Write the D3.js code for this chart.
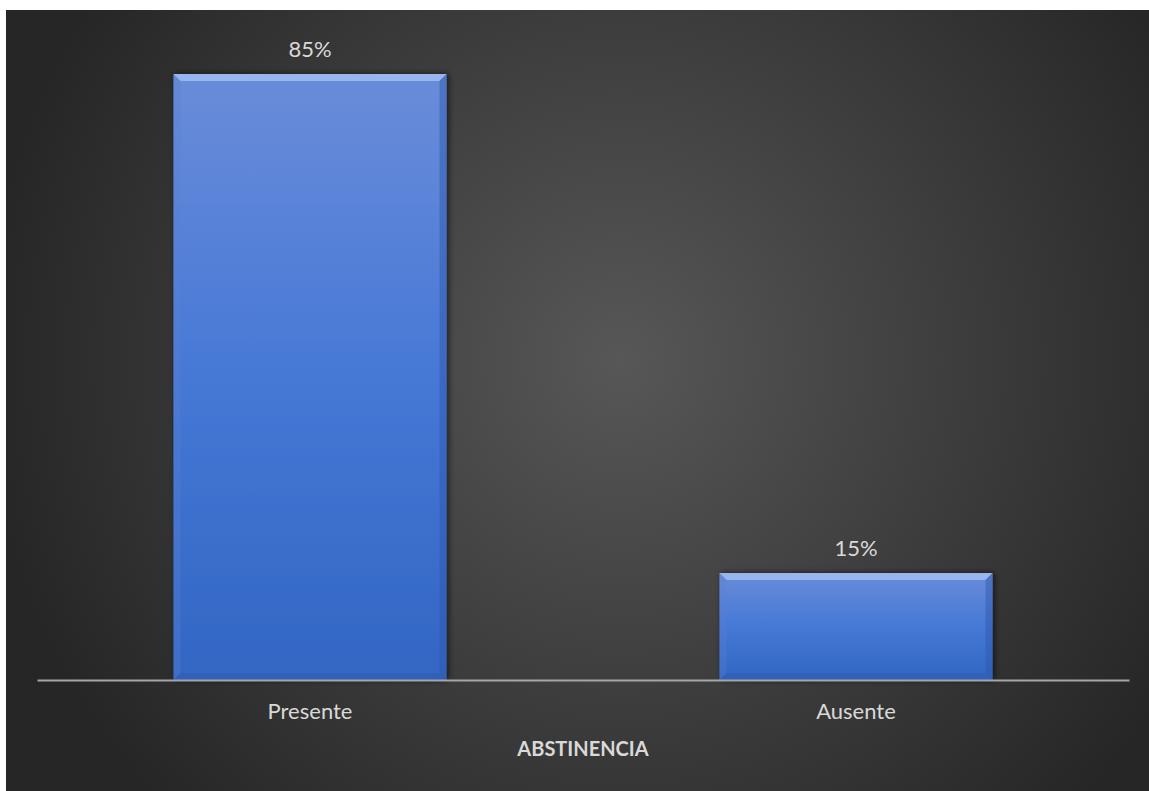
<!DOCTYPE html>
<html><head><meta charset="utf-8">
<script src="https://cdn.jsdelivr.net/npm/d3@7"></script>
<style>html,body{margin:0;padding:0;background:#fff;}svg{display:block;}</style>
</head><body>
<script>
const categories = ["Presente", "Ausente"];
const values = [85, 15];
const valueLabels = ["85%", "15%"];
const axisTitle = "ABSTINENCIA";

const W = 1149, H = 791;
const svg = d3.select("body").append("svg").attr("width", W).attr("height", H);
const defs = svg.append("defs");
const bg = defs.append("radialGradient").attr("id", "bg")
  .attr("gradientUnits", "userSpaceOnUse")
  .attr("cx", 620).attr("cy", 360).attr("r", 640);
bg.append("stop").attr("offset", "0%").attr("stop-color", "#575757");
bg.append("stop").attr("offset", "100%").attr("stop-color", "#262626");
const bar = defs.append("linearGradient").attr("id", "bar").attr("x1", 0).attr("y1", 0).attr("x2", 0).attr("y2", 1);
bar.append("stop").attr("offset", "0%").attr("stop-color", "#6a8cd9");
bar.append("stop").attr("offset", "50%").attr("stop-color", "#4678d6");
bar.append("stop").attr("offset", "100%").attr("stop-color", "#3366c4");
const sh = defs.append("filter").attr("id", "sh").attr("x", "-10%").attr("y", "-10%").attr("width", "130%").attr("height", "130%");
sh.append("feGaussianBlur").attr("in", "SourceAlpha").attr("stdDeviation", 3);
sh.append("feOffset").attr("dx", 2).attr("dy", 0).attr("result", "b");
sh.append("feComponentTransfer").append("feFuncA").attr("type", "linear").attr("slope", 0.6);
const m = sh.append("feMerge"); m.append("feMergeNode"); m.append("feMergeNode").attr("in", "SourceGraphic");

svg.append("rect").attr("x", 6).attr("y", 10).attr("width", W - 6).attr("height", H - 10).attr("fill", "url(#bg)");

const x = d3.scaleBand().domain(categories).range([37, 1129]).paddingInner(0.5).paddingOuter(0.25);
const y = d3.scaleLinear().domain([0, 85]).range([680, 74]);
const font = "Lato, 'Open Sans', sans-serif";

const g = svg.append("g");
categories.forEach((c, i) => {
  const x0 = x(c), bw = x.bandwidth(), y0 = y(values[i]), y1 = y(0);
  const b = 7;
  const gg = g.append("g");
  gg.append("rect").attr("x", x0).attr("y", y0).attr("width", bw).attr("height", y1 - y0)
    .attr("fill", "url(#bar)").attr("filter", "url(#sh)");
  gg.append("path").attr("d", `M${x0},${y0}L${x0+bw},${y0}L${x0+bw-b},${y0+b}L${x0+b},${y0+b}Z`).attr("fill", "#a3c0f2").attr("opacity", 0.8);
  gg.append("path").attr("d", `M${x0},${y0}L${x0+b},${y0+b}L${x0+b},${y1-b}L${x0},${y1}Z`).attr("fill", "#5a80d0").attr("opacity", 0.3);
  gg.append("path").attr("d", `M${x0+bw},${y0}L${x0+bw-b},${y0+b}L${x0+bw-b},${y1-b}L${x0+bw},${y1}Z`).attr("fill", "#2c56a8").attr("opacity", 0.45);
  gg.append("path").attr("d", `M${x0},${y1}L${x0+b},${y1-b}L${x0+bw-b},${y1-b}L${x0+bw},${y1}Z`).attr("fill", "#2d5ab0").attr("opacity", 0.5);
  g.append("text").attr("x", x0 + bw / 2).attr("y", y0 - 17).attr("text-anchor", "middle")
    .attr("font-family", font).attr("font-size", 22).attr("fill", "#d9d9d9").text(valueLabels[i]);
});

const axis = svg.append("g").attr("transform", "translate(0,680)")
  .call(d3.axisBottom(x).tickSize(0).tickPadding(23));
axis.select(".domain").attr("stroke", "#a6a6a6").attr("stroke-width", 2);
axis.selectAll("text").attr("font-family", font).attr("font-size", 22).attr("fill", "#d9d9d9");

svg.append("text").attr("x", (37 + 1129) / 2).attr("y", 756).attr("text-anchor", "middle")
  .attr("font-family", font).attr("font-size", 20).attr("font-weight", "bold").attr("fill", "#d9d9d9").text(axisTitle);
</script>
</body></html>
